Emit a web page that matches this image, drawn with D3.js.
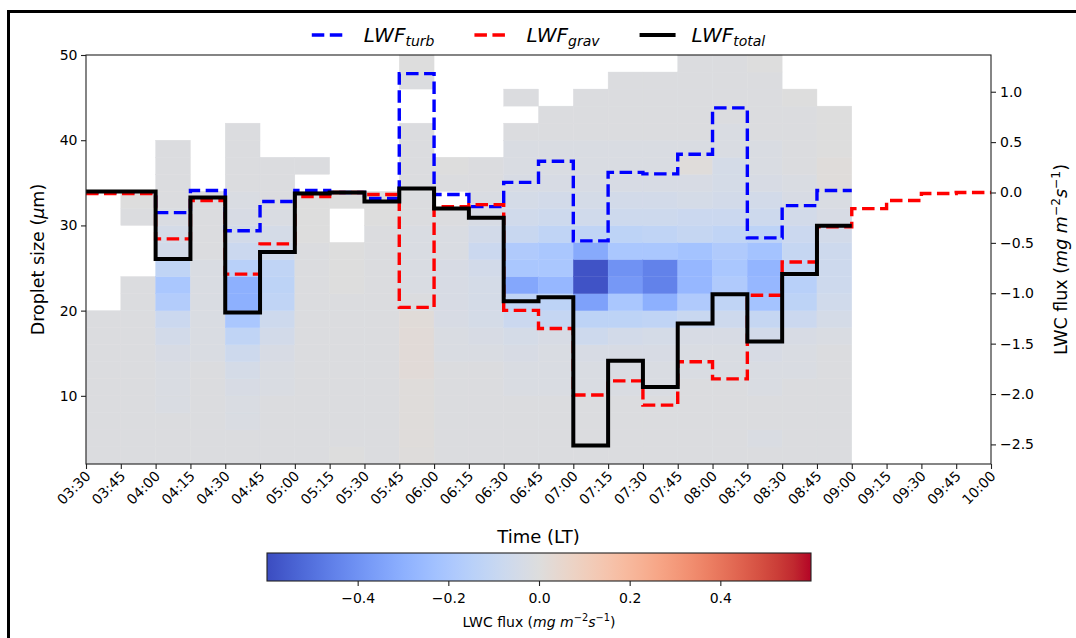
<!DOCTYPE html>
<html>
<head>
<meta charset="utf-8">
<script src="https://cdn.jsdelivr.net/npm/d3@7"></script>
<style>
  body { margin: 0; background: #fff; }
  text { font-family: "DejaVu Sans", sans-serif; fill: #000; }
</style>
</head>
<body>
<svg id="chart" width="1076" height="638"></svg>
<script>
// ---- Data -------------------------------------------------------------
// Tick labels on the time axis (15-minute steps, local time)
const timeLabels = ["03:30","03:45","04:00","04:15","04:30","04:45","05:00","05:15",
  "05:30","05:45","06:00","06:15","06:30","06:45","07:00","07:15","07:30","07:45",
  "08:00","08:15","08:30","08:45","09:00","09:15","09:30","09:45","10:00"];

// Droplet size bin edges (µm)
const sizeEdges = [2,4,6,8,10,12,14,16,18,20,22,24,26,28,30,32,34,36,38,40,42,44,46,48,50];

// LWC flux per size bin (mg m-2 s-1), one list per 15-min interval starting 03:30,
// bins listed from the smallest size upwards; null = no droplets in that bin
const lwcFlux = [
  [-0.01,-0.01,-0.01,-0.01,-0.01,-0.01,-0.01,-0.01,-0.01,null,null,null,null,null,null,null,null,null,null,null,null,null,null,null],
  [-0.01,-0.01,-0.01,-0.01,-0.01,-0.01,-0.01,-0.01,-0.01,-0.01,-0.01,null,null,null,-0.01,0.0,null,null,null,null,null,null,null,null],
  [-0.01,-0.01,-0.01,-0.02,-0.02,-0.02,-0.03,-0.05,-0.08,-0.17,-0.20,-0.12,-0.05,-0.04,-0.02,-0.01,-0.01,-0.01,-0.01,null,null,null,null,null],
  [-0.01,-0.01,-0.01,-0.01,-0.01,-0.01,-0.02,-0.02,-0.02,-0.02,-0.02,-0.02,-0.01,-0.01,-0.01,-0.01,null,null,null,null,null,null,null,null],
  [-0.01,-0.01,-0.02,-0.02,-0.03,-0.04,-0.07,-0.12,-0.20,-0.30,-0.30,-0.15,-0.08,-0.05,-0.03,-0.02,-0.01,-0.01,-0.01,-0.01,null,null,null,null],
  [-0.01,-0.01,-0.01,-0.01,-0.02,-0.02,-0.03,-0.05,-0.07,-0.12,-0.13,-0.12,-0.06,-0.04,-0.02,-0.01,-0.01,-0.01,null,null,null,null,null,null],
  [-0.01,-0.01,-0.01,-0.01,-0.01,-0.01,-0.01,-0.01,-0.01,-0.01,-0.01,-0.01,-0.01,0.0,0.0,0.0,null,-0.01,null,null,null,null,null,null],
  [0.0,-0.01,-0.01,-0.01,-0.01,-0.01,-0.01,-0.01,-0.01,-0.01,0.0,0.0,0.0,null,null,0.0,null,null,null,null,null,null,null,null],
  [-0.01,-0.01,-0.01,-0.01,-0.01,-0.01,-0.01,-0.01,-0.01,-0.01,-0.01,-0.01,-0.01,-0.01,0.0,0.0,null,null,null,null,null,null,null,null],
  [0.005,0.01,0.01,0.01,0.01,0.02,0.02,0.02,0.015,-0.01,-0.02,-0.02,-0.02,-0.02,-0.01,-0.01,-0.01,-0.01,-0.01,-0.01,null,null,-0.01,0.0],
  [-0.01,-0.01,-0.01,-0.01,-0.01,-0.01,-0.02,-0.02,-0.03,-0.03,-0.03,-0.03,-0.02,-0.02,-0.01,null,-0.01,0.0,null,null,null,null,null,null],
  [-0.01,-0.01,-0.01,-0.01,-0.01,-0.01,-0.02,-0.03,-0.04,-0.04,-0.04,-0.05,-0.08,-0.05,-0.03,-0.02,-0.01,-0.01,null,null,null,null,null,null],
  [-0.01,-0.01,-0.01,-0.01,-0.02,-0.02,-0.03,-0.04,-0.08,-0.12,-0.33,-0.20,-0.18,-0.09,-0.06,-0.04,-0.03,-0.02,-0.02,-0.01,null,-0.01,null,null],
  [-0.01,-0.01,-0.01,-0.01,-0.02,-0.02,-0.02,-0.03,-0.10,-0.13,-0.27,-0.20,-0.20,-0.12,-0.07,-0.05,-0.03,-0.02,-0.02,-0.01,-0.01,null,null,null],
  [-0.01,-0.01,-0.01,-0.01,-0.02,-0.02,-0.03,-0.07,-0.13,-0.35,-0.58,-0.58,-0.32,-0.12,-0.06,-0.04,-0.03,-0.02,-0.02,-0.01,-0.01,-0.01,null,null],
  [-0.01,-0.01,-0.01,-0.01,-0.02,-0.02,-0.03,-0.05,-0.13,-0.20,-0.38,-0.40,-0.20,-0.13,-0.07,-0.05,-0.03,-0.02,-0.02,-0.01,-0.01,-0.01,-0.01,null],
  [-0.01,-0.01,-0.01,-0.01,-0.02,-0.02,-0.03,-0.04,-0.12,-0.30,-0.45,-0.45,-0.20,-0.12,-0.07,-0.05,-0.03,-0.02,-0.02,-0.01,-0.01,-0.01,-0.01,null],
  [-0.01,-0.01,-0.01,-0.01,-0.01,-0.02,-0.02,-0.03,-0.09,-0.18,-0.27,-0.27,-0.22,-0.10,-0.08,-0.04,-0.03,0.01,-0.02,-0.01,-0.01,-0.01,-0.01,-0.01],
  [-0.01,-0.01,-0.01,-0.01,-0.01,-0.02,-0.02,-0.03,-0.07,-0.12,-0.18,-0.20,-0.18,-0.12,-0.08,-0.05,-0.04,-0.04,-0.02,-0.02,-0.01,-0.01,-0.01,-0.01],
  [-0.01,-0.02,-0.01,-0.01,-0.02,-0.02,-0.03,-0.05,-0.10,-0.22,-0.27,-0.28,-0.22,-0.13,-0.07,-0.05,-0.03,-0.02,-0.02,-0.01,-0.01,-0.01,-0.01,0.0],
  [-0.01,-0.01,-0.01,-0.01,-0.01,-0.02,-0.02,-0.03,-0.08,-0.13,-0.15,-0.12,-0.10,-0.08,-0.05,-0.03,-0.02,-0.01,-0.01,-0.01,-0.01,0.0,null,null],
  [-0.01,-0.01,-0.01,-0.01,-0.01,-0.01,-0.01,-0.02,-0.04,-0.06,-0.07,-0.07,-0.07,-0.05,-0.03,-0.02,0.01,0.01,0.0,0.0,0.0,null,null,null]
];

// Liquid water flux per 15-min interval (mg m-2 s-1), starting 03:30
const lwfTurb  = [0.0,0.0,-0.20,0.02,-0.38,-0.09,0.02,0.0,-0.06,1.18,-0.02,-0.14,0.10,0.31,-0.48,0.20,0.185,0.38,0.84,-0.45,-0.13,0.02];
const lwfGrav  = [-0.01,-0.01,-0.46,-0.08,-0.81,-0.51,-0.04,0.0,-0.02,-1.14,-0.14,-0.12,-1.17,-1.35,-2.01,-1.87,-2.11,-1.68,-1.85,-1.02,-0.69,-0.34,-0.16,-0.08,-0.01,0.0];
const lwfTotal = [0.01,0.01,-0.66,-0.05,-1.19,-0.59,-0.01,0.0,-0.09,0.04,-0.16,-0.25,-1.08,-1.04,-2.51,-1.67,-1.93,-1.30,-1.01,-1.48,-0.81,-0.33];

// Tick values
const sizeTicks = [10,20,30,40,50];
const fluxTicks = [-2.5,-2.0,-1.5,-1.0,-0.5,0.0,0.5,1.0];
const colorbarTicks = [-0.4,-0.2,0.0,0.2,0.4];
const colorLimit = 0.6;

// Diverging cool-warm palette control colours (blue -> grey -> red)
const coolwarm = ["#3b4cc0","#445acc","#4d68d7","#5775e1","#6282ea","#6c8ef1","#779af7","#82a5fb",
  "#8db0fe","#98b9ff","#a3c2ff","#aec9fd","#b8d0f9","#c2d5f4","#ccd9ee","#d5dbe6","#dddddd",
  "#e5d8d1","#ecd3c5","#f1ccb9","#f5c4ad","#f7bba0","#f7b194","#f7a687","#f49a7b","#f18d6f",
  "#ec7f63","#e57058","#de604d","#d55042","#cb3e38","#c0282f","#b40426"];

// ---- Layout ------------------------------------------------------------
const svg = d3.select("#chart");
const plot = { left: 86, right: 991, top: 55, bottom: 464 };
const parseT = d3.timeParse("%H:%M");
const timeDates = timeLabels.map(parseT);

const x = d3.scaleTime()
  .domain([timeDates[0], timeDates[timeDates.length - 1]])
  .range([plot.left, plot.right]);
const ySize = d3.scaleLinear()
  .domain([sizeEdges[0], sizeEdges[sizeEdges.length - 1]])
  .range([plot.bottom, plot.top]);
const allFlux = lwfTurb.concat(lwfGrav, lwfTotal);
const fMin = d3.min(allFlux), fMax = d3.max(allFlux), fPad = (fMax - fMin) * 0.05;
const yFlux = d3.scaleLinear()
  .domain([fMin - fPad, fMax + fPad])
  .range([plot.bottom, plot.top]);

const color = d3.scaleLinear()
  .domain(coolwarm.map((_, i) => -colorLimit + 2 * colorLimit * i / (coolwarm.length - 1)))
  .range(coolwarm)
  .interpolate(d3.interpolateRgb)
  .clamp(true);

// ---- Heat map ----------------------------------------------------------
const cells = [];
lwcFlux.forEach((col, i) => {
  col.forEach((v, j) => {
    if (v !== null) cells.push({ t0: timeDates[i], t1: timeDates[i + 1], s0: sizeEdges[j], s1: sizeEdges[j + 1], v });
  });
});
svg.append("g").selectAll("rect").data(cells).join("rect")
  .attr("x", d => x(d.t0))
  .attr("y", d => ySize(d.s1))
  .attr("width", d => x(d.t1) - x(d.t0))
  .attr("height", d => ySize(d.s0) - ySize(d.s1))
  .attr("fill", d => color(d.v))
  .attr("stroke", d => color(d.v))
  .attr("stroke-width", 0.4);

// ---- Flux step lines ---------------------------------------------------
const series = [
  { key: "turb",  values: lwfTurb,  color: "#0000ff", width: 3.4, dash: "12.5,5.5" },
  { key: "grav",  values: lwfGrav,  color: "#ff0000", width: 3.4, dash: "12.5,5.5" },
  { key: "total", values: lwfTotal, color: "#000000", width: 4.0, dash: null }
];
const stepLine = d3.line()
  .x(d => x(d.t))
  .y(d => yFlux(d.v))
  .curve(d3.curveStepAfter);
series.forEach(s => {
  const pts = s.values.map((v, i) => ({ t: timeDates[i], v }));
  pts.push({ t: timeDates[s.values.length], v: s.values[s.values.length - 1] });
  svg.append("path")
    .attr("d", stepLine(pts))
    .attr("fill", "none")
    .attr("stroke", s.color)
    .attr("stroke-width", s.width)
    .attr("stroke-dasharray", s.dash)
    .attr("stroke-linejoin", "miter");
});

// ---- Axes --------------------------------------------------------------
const axisColor = "#222";
const xAxis = svg.append("g")
  .attr("transform", `translate(0,${plot.bottom})`)
  .call(d3.axisBottom(x).tickValues(timeDates).tickFormat(d3.timeFormat("%H:%M")).tickSize(5).tickSizeOuter(0));
xAxis.selectAll("text")
  .attr("font-size", 14)
  .attr("text-anchor", "end")
  .attr("x", 0).attr("y", 0).attr("dy", 0)
  .attr("transform", "translate(5,13) rotate(-45)");

const yLeft = svg.append("g")
  .attr("transform", `translate(${plot.left},0)`)
  .call(d3.axisLeft(ySize).tickValues(sizeTicks).tickFormat(d3.format("d")).tickSize(5).tickSizeOuter(0));
yLeft.selectAll("text").attr("font-size", 14).attr("x", -8.5);

const yRight = svg.append("g")
  .attr("transform", `translate(${plot.right},0)`)
  .call(d3.axisRight(yFlux).tickValues(fluxTicks).tickFormat(d3.format(".1f")).tickSize(5).tickSizeOuter(0));
yRight.selectAll("text").attr("font-size", 14).attr("x", 9);

[xAxis, yLeft, yRight].forEach(g => {
  g.select(".domain").remove();
  g.selectAll("line").attr("stroke", axisColor).attr("stroke-width", 1.1);
  g.selectAll("text").attr("fill", "#000").style("font-family", "'DejaVu Sans', sans-serif");
});

svg.append("rect")
  .attr("x", plot.left).attr("y", plot.top)
  .attr("width", plot.right - plot.left).attr("height", plot.bottom - plot.top)
  .attr("fill", "none").attr("stroke", axisColor).attr("stroke-width", 1.1);

// Rich text helper: italic, superscript and subscript runs
function rich(sel, parts, size) {
  let shift = 0;
  parts.forEach(p => {
    const ts = sel.append("tspan").text(p.t);
    let target = 0, fs = size;
    if (p.sup) { target = -0.42 * size; fs = size * 0.7; }
    if (p.sub) { target = 0.22 * size; fs = size * 0.7; }
    ts.attr("font-size", fs);
    if (p.it) ts.attr("font-style", "italic");
    if (target !== shift) { ts.attr("dy", target - shift); shift = target; }
  });
}

// Axis titles
rich(svg.append("text")
  .attr("transform", `translate(44,${(plot.top + plot.bottom) / 2}) rotate(-90)`)
  .attr("text-anchor", "middle"),
  [{ t: "Droplet size (" }, { t: "μ", it: true }, { t: "m)" }], 17.5);

svg.append("text")
  .attr("x", (plot.left + plot.right) / 2).attr("y", 543)
  .attr("text-anchor", "middle").attr("font-size", 18)
  .text("Time (LT)");

const fluxUnit = [{ t: "LWC flux (" }, { t: "mg m", it: true }, { t: "−2", sup: true },
  { t: "s", it: true }, { t: "−1", sup: true }, { t: ")" }];
rich(svg.append("text")
  .attr("transform", `translate(1067,${(plot.top + plot.bottom) / 2}) rotate(-90)`)
  .attr("text-anchor", "middle"), fluxUnit, 17.5);

// ---- Legend ------------------------------------------------------------
const legend = svg.append("g");
const legendY = 35, legendSize = 20;
const handleLen = 2 * legendSize * 0.9, handlePad = 0.8 * legendSize, colGap = 2 * legendSize;
const items = series.map(s => {
  const g = legend.append("g");
  g.append("line").attr("x1", 0).attr("x2", handleLen).attr("y1", 0).attr("y2", 0)
    .attr("stroke", s.color).attr("stroke-width", s.width).attr("stroke-dasharray", s.dash);
  const t = g.append("text").attr("x", handleLen + handlePad).attr("y", 7);
  rich(t, [{ t: "LWF", it: true }, { t: s.key, it: true, sub: true }], legendSize);
  const w = handleLen + handlePad + t.node().getComputedTextLength();
  return { g, w };
});
const totalW = d3.sum(items, d => d.w) + colGap * (items.length - 1);
let lx = (plot.left + plot.right) / 2 - totalW / 2;
items.forEach(it => {
  it.g.attr("transform", `translate(${lx},${legendY})`);
  lx += it.w + colGap;
});

// ---- Colour bar --------------------------------------------------------
const cb = { left: 267, right: 811, top: 553, bottom: 581 };
const cbScale = d3.scaleLinear().domain([-colorLimit, colorLimit]).range([cb.left, cb.right]);
const grad = svg.append("defs").append("linearGradient").attr("id", "cbGrad")
  .attr("x1", "0%").attr("x2", "100%").attr("y1", "0%").attr("y2", "0%");
coolwarm.forEach((c, i) => {
  grad.append("stop").attr("offset", `${100 * i / (coolwarm.length - 1)}%`).attr("stop-color", c);
});
svg.append("rect")
  .attr("x", cb.left).attr("y", cb.top)
  .attr("width", cb.right - cb.left).attr("height", cb.bottom - cb.top)
  .attr("fill", "url(#cbGrad)").attr("stroke", axisColor).attr("stroke-width", 1.1);
const cbAxis = svg.append("g")
  .attr("transform", `translate(0,${cb.bottom})`)
  .call(d3.axisBottom(cbScale).tickValues(colorbarTicks).tickFormat(d3.format(".1f")).tickSize(5).tickSizeOuter(0));
cbAxis.select(".domain").remove();
cbAxis.selectAll("line").attr("stroke", axisColor).attr("stroke-width", 1.1);
cbAxis.selectAll("text").attr("font-size", 14).attr("fill", "#000").attr("y", 9).attr("dy", "0.95em")
  .style("font-family", "'DejaVu Sans', sans-serif");
rich(svg.append("text")
  .attr("x", (cb.left + cb.right) / 2).attr("y", 627)
  .attr("text-anchor", "middle"), fluxUnit, 14);

// ---- Figure frame ------------------------------------------------------
svg.append("rect")
  .attr("x", 8.5).attr("y", 11.5).attr("width", 1200).attr("height", 800)
  .attr("fill", "none").attr("stroke", "#000").attr("stroke-width", 3);
</script>
</body>
</html>
